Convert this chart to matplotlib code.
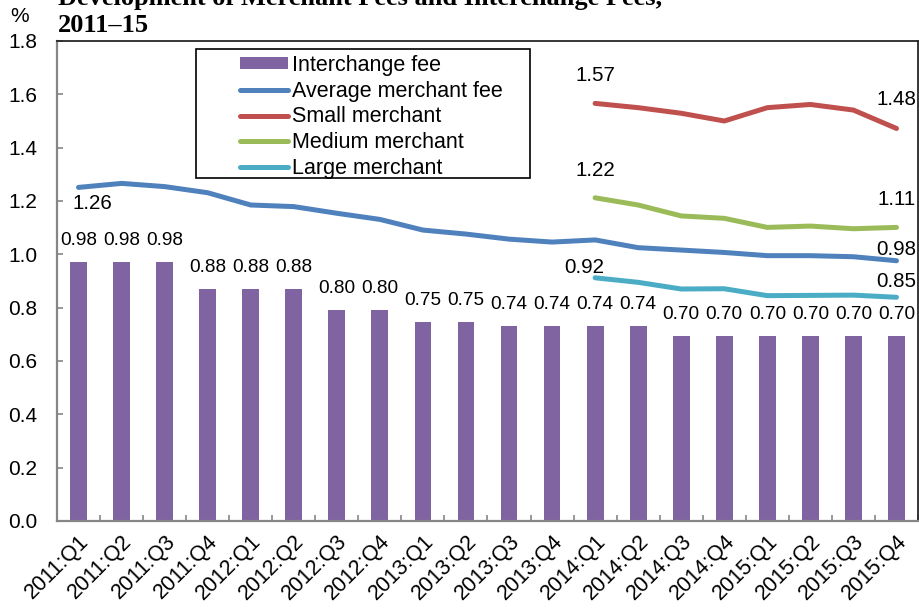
import numpy as np
import matplotlib
matplotlib.use("Agg")
import matplotlib.pyplot as plt
import matplotlib.transforms as mtransforms
from matplotlib.patches import Rectangle, Patch
from matplotlib.lines import Line2D

plt.rcParams['font.family'] = ['Liberation Sans', 'DejaVu Sans']

quarters = ['2011:Q1', '2011:Q2', '2011:Q3', '2011:Q4',
            '2012:Q1', '2012:Q2', '2012:Q3', '2012:Q4',
            '2013:Q1', '2013:Q2', '2013:Q3', '2013:Q4',
            '2014:Q1', '2014:Q2', '2014:Q3', '2014:Q4',
            '2015:Q1', '2015:Q2', '2015:Q3', '2015:Q4']

interchange = [0.97, 0.97, 0.97, 0.87, 0.87, 0.87, 0.79, 0.79, 0.745, 0.745,
               0.73, 0.73, 0.73, 0.73, 0.695, 0.695, 0.695, 0.695, 0.695, 0.695]
interchange_labels = ['0.98', '0.98', '0.98', '0.88', '0.88', '0.88', '0.80', '0.80',
                      '0.75', '0.75', '0.74', '0.74', '0.74', '0.74',
                      '0.70', '0.70', '0.70', '0.70', '0.70', '0.70']

avg_fee = [1.251, 1.266, 1.254, 1.231, 1.185, 1.179, 1.154, 1.131, 1.091, 1.076,
           1.057, 1.046, 1.054, 1.025, 1.016, 1.007, 0.995, 0.995, 0.991, 0.976]

# merchant size series start in 2014:Q1
small = [1.566, 1.550, 1.529, 1.500, 1.550, 1.562, 1.541, 1.472]
medium = [1.212, 1.185, 1.144, 1.135, 1.101, 1.106, 1.096, 1.101]
large = [0.912, 0.895, 0.870, 0.871, 0.845, 0.846, 0.847, 0.839]

c_bar = '#8064A2'
c_avg = '#4F81BD'
c_small = '#C0504D'
c_med = '#9BBB59'
c_large = '#4BACC6'

fig = plt.figure(figsize=(9.2, 6.15), dpi=100)
ax = fig.add_axes([57 / 920, 1 - 521 / 615, (918 - 57) / 920, (521 - 41) / 615])

x = np.arange(len(quarters))
x2 = x[12:]

ax.bar(x, interchange, width=0.39, color=c_bar, zorder=2)
for xi, h, lab in zip(x, interchange, interchange_labels):
    ax.text(xi, h + 0.081, lab, ha='center', va='center', fontsize=13.7)

lw = 3.6
ax.plot(x, avg_fee, color=c_avg, lw=lw, solid_capstyle='round', zorder=3)
ax.plot(x2, small, color=c_small, lw=lw, solid_capstyle='round', zorder=3)
ax.plot(x2, medium, color=c_med, lw=lw, solid_capstyle='round', zorder=3)
ax.plot(x2, large, color=c_large, lw=lw, solid_capstyle='round', zorder=3)

# end-point labels
fs_end = 14.8
ax.text(x[0] + 0.32, avg_fee[0] - 0.06, '1.26', ha='center', va='center', fontsize=fs_end)
ax.text(x[-1], avg_fee[-1] + 0.043, '0.98', ha='center', va='center', fontsize=fs_end)
ax.text(x2[0], small[0] + 0.105, '1.57', ha='center', va='center', fontsize=fs_end)
ax.text(x2[-1], small[-1] + 0.107, '1.48', ha='center', va='center', fontsize=fs_end)
ax.text(x2[0], medium[0] + 0.104, '1.22', ha='center', va='center', fontsize=fs_end)
ax.text(x2[-1], medium[-1] + 0.103, '1.11', ha='center', va='center', fontsize=fs_end)
ax.text(x2[0] - 0.25, large[0] + 0.04, '0.92', ha='center', va='center', fontsize=fs_end)
ax.text(x2[-1], large[-1] + 0.058, '0.85', ha='center', va='center', fontsize=fs_end)

ax.set_xlim(-0.5, len(quarters) - 0.5)
ax.set_ylim(0, 1.8)
ax.set_yticks(np.arange(0, 1.81, 0.2))
ax.set_yticklabels([f'{v:.1f}' for v in np.arange(0, 1.81, 0.2)], fontsize=15)
ax.set_xticks(x)
ax.set_xticklabels(quarters, fontsize=15.5, rotation=45, ha='right', va='top',
                   rotation_mode='anchor')
shift = mtransforms.ScaledTranslation(-5 / 100, -3 / 100, fig.dpi_scale_trans)
for lab in ax.get_xticklabels():
    lab.set_transform(lab.get_transform() + shift)
ax.set_xticks(np.arange(-0.5, len(quarters), 1), minor=True)
ax.tick_params(axis='x', which='major', length=0, pad=7)
ax.tick_params(axis='x', which='minor', direction='in', length=4, color='#868686', width=1.2)
ax.tick_params(axis='y', direction='in', length=4, color='#868686', width=1.2, pad=14)

for s in ['left', 'bottom']:
    ax.spines[s].set_color('#868686')
    ax.spines[s].set_linewidth(1.6)
for s in ['top', 'right']:
    ax.spines[s].set_color('#262626')
    ax.spines[s].set_linewidth(1.3)

# legend with its own frame
fig.patches.append(Rectangle((196 / 920, 1 - 178 / 615), (530 - 196) / 920, (178 - 49) / 615,
                             transform=fig.transFigure, fill=False, edgecolor='black',
                             linewidth=1.2, zorder=5))
handles = [Patch(facecolor=c_bar),
           Line2D([], [], color=c_avg, lw=lw, solid_capstyle='round'),
           Line2D([], [], color=c_small, lw=lw, solid_capstyle='round'),
           Line2D([], [], color=c_med, lw=lw, solid_capstyle='round'),
           Line2D([], [], color=c_large, lw=lw, solid_capstyle='round')]
labels = ['Interchange fee', 'Average merchant fee', 'Small merchant',
          'Medium merchant', 'Large merchant']
fig.legend(handles, labels, loc='upper left', bbox_to_anchor=(240 / 920, 1 - 55 / 615),
           frameon=False, fontsize=15.5, handlelength=2.25, handletextpad=0.15,
           labelspacing=0.22, borderpad=0, borderaxespad=0, handleheight=0.5)

fig.text(20 / 920, 1 - 17 / 615, '%', ha='center', va='center', fontsize=15)
fig.text(58 / 920, 1 - 5 / 615, 'Development of Merchant Fees and Interchange Fees,',
         ha='left', va='baseline', fontsize=19, fontweight='bold', family='Liberation Serif')
fig.text(58 / 920, 1 - 32 / 615, '2011\u201315',
         ha='left', va='baseline', fontsize=19, fontweight='bold', family='Liberation Serif')

fig.savefig('out.png', dpi=100)
